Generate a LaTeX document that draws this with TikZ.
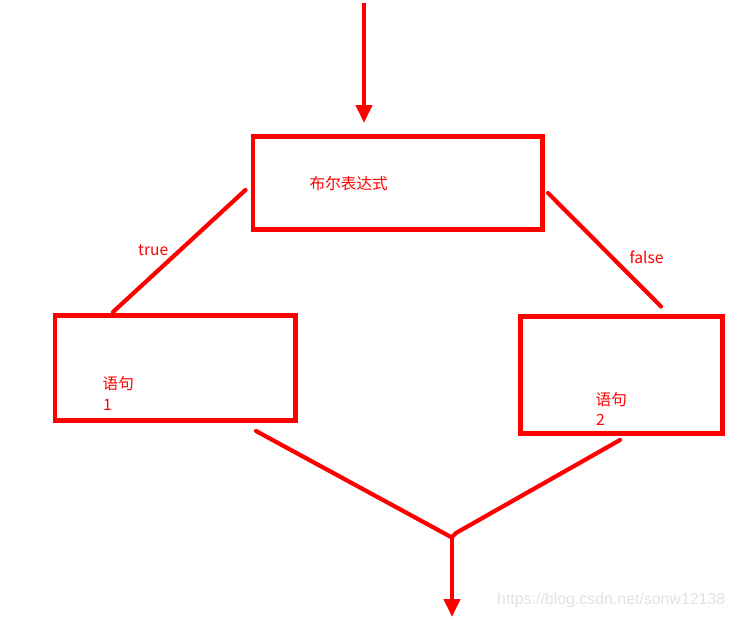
\documentclass[tikz,border=0pt]{standalone}
\usepackage{fontspec}
\setmainfont{Liberation Sans}
\newfontfamily\cjk{Noto Sans CJK SC}
\usetikzlibrary{arrows.meta}
\definecolor{pred}{RGB}{255,0,0}
\definecolor{wm}{RGB}{226,226,226}
\begin{document}
\begin{tikzpicture}[x=1pt,y=-1pt,
  box/.style={draw=pred,line width=4.6pt,rectangle,inner sep=0pt},
  link/.style={draw=pred,line width=4.2pt,line cap=round},
  arr/.style={draw=pred,line width=4.2pt,-{Triangle[length=18pt,width=16pt]}},
  lbl/.style={text=pred,inner sep=0pt,font=\cjk\fontsize{15.6}{17}\selectfont},
  wmark/.style={text=wm,inner sep=0pt,font=\fontsize{15.9}{18}\selectfont}]
\useasboundingbox (0,0) rectangle (733,618);
% boxes
\node[box,minimum width=289.5pt,minimum height=93pt] (cond) at (397.75,183) {};
\node[box,minimum width=240.5pt,minimum height=105pt] (s1) at (175.25,368) {};
\node[box,minimum width=202pt,minimum height=117pt] (s2) at (621.5,375) {};
% texts
\node[lbl,anchor=west] (condtxt) at (309.5,184) {布尔表达式};
\node[lbl,anchor=west] (s1a) at (102.5,383.5) {语句};
\node[lbl,anchor=base west] (s1b) at (103,410) {1};
\node[lbl,anchor=west] (s2a) at (595.5,399.5) {语句};
\node[lbl,anchor=base west] (s2b) at (596,425) {2};
\node[lbl,anchor=base west] (tl) at (138,255) {true};
\node[lbl,anchor=base west] (fl) at (629.5,263) {false};
\node[wmark,anchor=west] (wm) at (497,600) {https://blog.csdn.net/sonw12138};
% connector end points
\coordinate (in0) at (364,3);
\coordinate (in1) at (364,123);
\coordinate (ta) at (245.5,190);
\coordinate (tb) at (113,312);
\coordinate (fa) at (548,193);
\coordinate (fb) at (661,306.5);
\coordinate (ma) at (256,431);
\coordinate (mb) at (620,440);
\coordinate (jl) at (451,537);
\coordinate (jr) at (456,533);
\coordinate (j0) at (452,537);
\coordinate (out) at (452,617);
% connectors
\draw[arr] (in0) -- (in1);
\draw[link] (ta) -- (tb);
\draw[link] (fa) -- (fb);
\draw[link] (ma) -- (jl);
\draw[link] (mb) -- (jr) -- (j0);
\draw[arr] (j0) -- (out);
\end{tikzpicture}
\end{document}
